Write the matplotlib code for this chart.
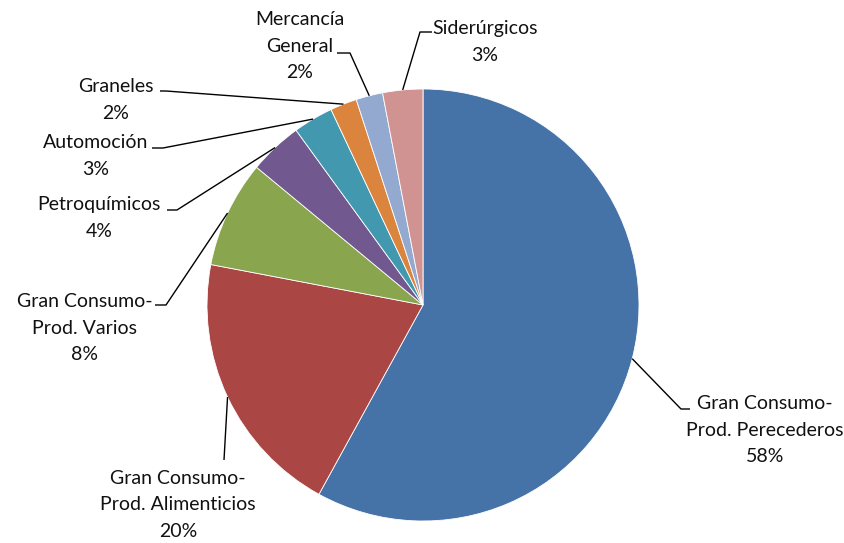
import numpy as np
import matplotlib.pyplot as plt

plt.rcParams["font.family"] = ["Lato", "DejaVu Sans"]

categories = [
    "Gran Consumo-\nProd. Perecederos",
    "Gran Consumo-\nProd. Alimenticios",
    "Gran Consumo-\nProd. Varios",
    "Petroquímicos",
    "Automoción",
    "Graneles",
    "Mercancía\nGeneral",
    "Siderúrgicos",
]
shares = [58, 20, 8, 4, 3, 2, 2, 3]
colors = ["#4572A7", "#AA4643", "#89A54E", "#71588F",
          "#4198AF", "#DB843D", "#93A9CF", "#D19392"]

W, H = 845, 543
fig = plt.figure(figsize=(W / 100, H / 100), dpi=100)
ax = fig.add_axes([0, 0, 1, 1])

cx, cy, r = 423, H - 305, 216
wedges, _ = ax.pie(shares, colors=colors, startangle=90, counterclock=False,
                   center=(cx, cy), radius=r, frame=True,
                   wedgeprops=dict(linewidth=0.6, edgecolor="white"))
ax.set_xlim(0, W)
ax.set_ylim(0, H)
ax.set_aspect("equal")
ax.axis("off")

# label block centre (px, from top) and the leader-line elbow points
label_pos = [(765, 430), (178, 505), (85, 328), (99, 218),
             (96, 156), (116, 100), (300, 46), (485, 42)]
elbows = [[(681, 409), (690, 409)],
          [(224, 460)],
          [(166, 305), (155, 305)],
          [(177, 210), (167, 210)],
          [(163, 148), (152, 148)],
          [(166, 91), (160, 91)],
          [(350, 53), (337, 53)],
          [(420, 32), (432, 32)]]

for w, label, val, (tx, ty), pts in zip(wedges, categories, shares,
                                         label_pos, elbows):
    mid = np.deg2rad((w.theta1 + w.theta2) / 2)
    ex, ey = cx + r * np.cos(mid), cy + r * np.sin(mid)
    path = [(ex, ey)] + [(px, H - py) for px, py in pts]
    xs, ys = zip(*path)
    ax.plot(xs, ys, color="black", lw=1.0, solid_capstyle="butt")
    ax.text(tx, H - ty, f"{label}\n{val}%", ha="center", va="center",
            fontsize=14, color="#111111", linespacing=1.65)

fig.savefig("out.png", dpi=100)
